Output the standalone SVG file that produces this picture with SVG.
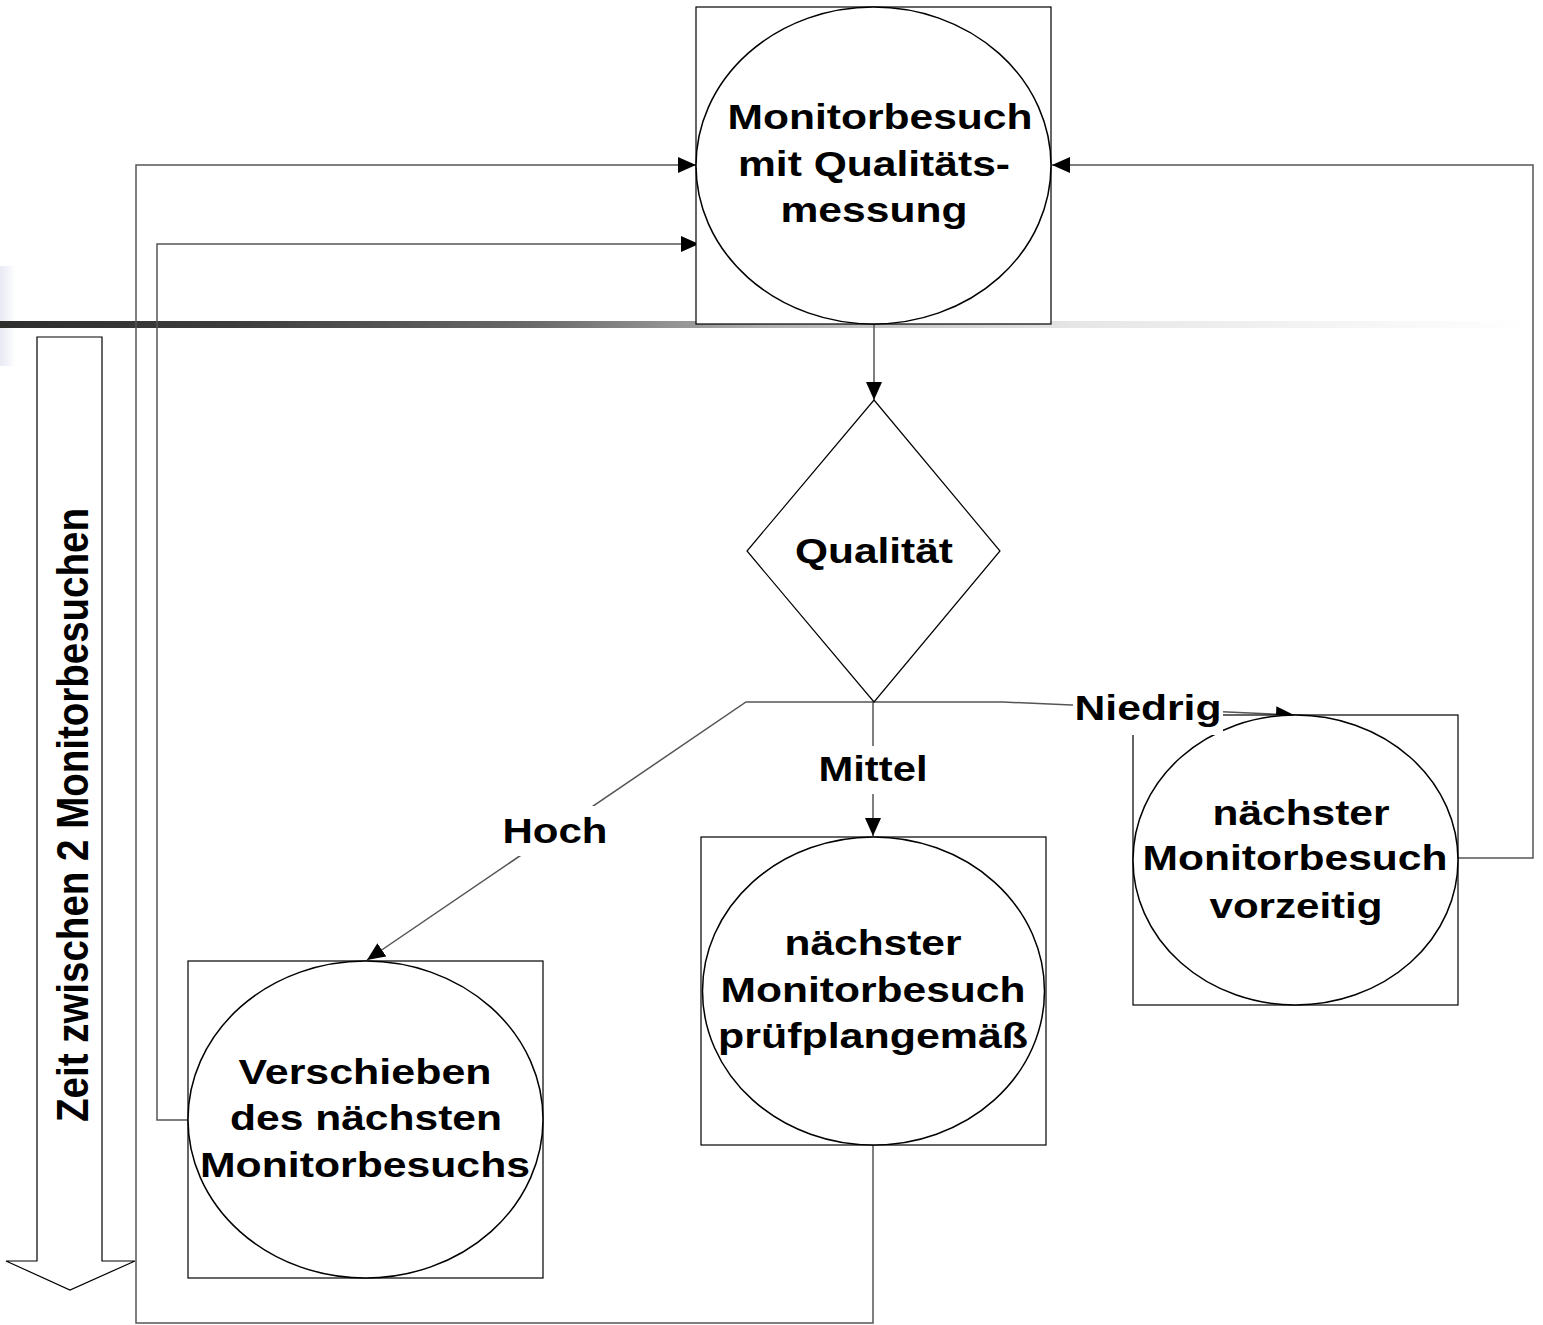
<svg xmlns="http://www.w3.org/2000/svg" width="1543" height="1325" viewBox="0 0 1543 1325">
<defs>
<linearGradient id="bar" x1="0" y1="0" x2="1" y2="0">
<stop offset="0" stop-color="#2e2e2e"/>
<stop offset="0.15" stop-color="#3c3c3c"/>
<stop offset="0.35" stop-color="#6a6a6a"/>
<stop offset="0.5" stop-color="#b0b0b0"/>
<stop offset="0.7" stop-color="#e6e6e6"/>
<stop offset="1" stop-color="#ffffff"/>
</linearGradient>
<linearGradient id="band" x1="0" y1="0" x2="1" y2="0">
<stop offset="0" stop-color="#e8eaf4"/>
<stop offset="1" stop-color="#ffffff"/>
</linearGradient>
<marker id="ah" viewBox="0 0 18 16" refX="18" refY="8" markerWidth="18" markerHeight="16" markerUnits="userSpaceOnUse" orient="auto">
<path d="M0,0 L18,8 L0,16 Z" fill="#000"/>
</marker>
<style>
.box{fill:#fff;stroke:#000;stroke-width:1.2}
.ell{fill:#fff;stroke:#000;stroke-width:1.5}
.con{fill:none;stroke:#555;stroke-width:1.5}
.arr{marker-end:url(#ah)}
.t{font-family:"Liberation Sans",Arial,sans-serif;font-weight:bold;font-size:35px;fill:#000;text-anchor:middle}
.bg{fill:#fff;stroke:none}
</style>
</defs>
<rect width="1543" height="1325" fill="#fff"/>
<rect x="0" y="266" width="16" height="100" fill="url(#band)"/>
<rect x="0" y="321" width="1532" height="7" fill="url(#bar)"/>

<g id="time-arrow">
<polygon points="37,337 102,337 102,1261 135,1261 70,1290 6,1261 37,1261" fill="#fff" stroke="#000" stroke-width="1.2"/>
<text class="t" transform="translate(88,815) rotate(-90)" textLength="614" lengthAdjust="spacingAndGlyphs" style="font-size:44px">Zeit zwischen 2 Monitorbesuchen</text>
</g>

<g id="connectors">
<polyline class="con arr" points="873,1145 873,1323 136,1323 136,165 696,165"/>
<polyline class="con arr" points="188,1120 157,1120 157,244 699,244"/>
<polyline class="con arr" points="1458,858 1533,858 1533,165 1052,165"/>
<line class="con arr" x1="874" y1="324" x2="874" y2="400"/>
<polyline class="con arr" points="873,702 746,702 367,960"/>
<line class="con arr" x1="873" y1="702" x2="873" y2="836"/>
<polyline class="con arr" points="873,702 1003,702 1294,715"/>
</g>

<g id="n-monitor">
<rect class="box" x="696" y="7" width="355" height="317"/>
<ellipse class="ell" cx="873.5" cy="165.5" rx="177.5" ry="158.5"/>
<text class="t" x="880" y="129" textLength="305" lengthAdjust="spacingAndGlyphs">Monitorbesuch</text>
<text class="t" x="874" y="176" textLength="272" lengthAdjust="spacingAndGlyphs">mit Qualitäts-</text>
<text class="t" x="874" y="222" textLength="187" lengthAdjust="spacingAndGlyphs">messung</text>
</g>

<g id="n-qualitaet">
<polygon points="874,400 1000,551 874,702 747,551" fill="#fff" stroke="#000" stroke-width="1.2"/>
<text class="t" x="874" y="563" textLength="158" lengthAdjust="spacingAndGlyphs">Qualität</text>
</g>

<g id="labels">
<rect class="bg" x="500" y="806" width="112" height="50"/>
<text class="t" x="555" y="843" textLength="105" lengthAdjust="spacingAndGlyphs">Hoch</text>
<rect class="bg" x="815" y="746" width="117" height="48"/>
<text class="t" x="873" y="781" textLength="109" lengthAdjust="spacingAndGlyphs">Mittel</text>
</g>

<g id="n-vorzeitig">
<rect class="box" x="1133" y="715" width="325" height="290"/>
<ellipse class="ell" cx="1295.5" cy="860" rx="162.5" ry="145"/>
<text class="t" x="1301" y="825" textLength="177" lengthAdjust="spacingAndGlyphs">nächster</text>
<text class="t" x="1295" y="870" textLength="305" lengthAdjust="spacingAndGlyphs">Monitorbesuch</text>
<text class="t" x="1296" y="918" textLength="173" lengthAdjust="spacingAndGlyphs">vorzeitig</text>
</g>

<g id="label-niedrig">
<rect class="bg" x="1073" y="690" width="150" height="45"/>
<text class="t" x="1148" y="720" textLength="147" lengthAdjust="spacingAndGlyphs">Niedrig</text>
</g>

<g id="n-pruefplan">
<rect class="box" x="701" y="837" width="345" height="308"/>
<ellipse class="ell" cx="873.5" cy="991" rx="171" ry="154"/>
<text class="t" x="873" y="955" textLength="177" lengthAdjust="spacingAndGlyphs">nächster</text>
<text class="t" x="873" y="1002" textLength="305" lengthAdjust="spacingAndGlyphs">Monitorbesuch</text>
<text class="t" x="873" y="1048" textLength="310" lengthAdjust="spacingAndGlyphs">prüfplangemäß</text>
</g>

<g id="n-verschieben">
<rect class="box" x="188" y="961" width="355" height="317"/>
<ellipse class="ell" cx="365.5" cy="1119.5" rx="177.5" ry="158.5"/>
<text class="t" x="365" y="1084" textLength="253" lengthAdjust="spacingAndGlyphs">Verschieben</text>
<text class="t" x="366" y="1130" textLength="272" lengthAdjust="spacingAndGlyphs">des nächsten</text>
<text class="t" x="365" y="1177" textLength="330" lengthAdjust="spacingAndGlyphs">Monitorbesuchs</text>
</g>
</svg>
